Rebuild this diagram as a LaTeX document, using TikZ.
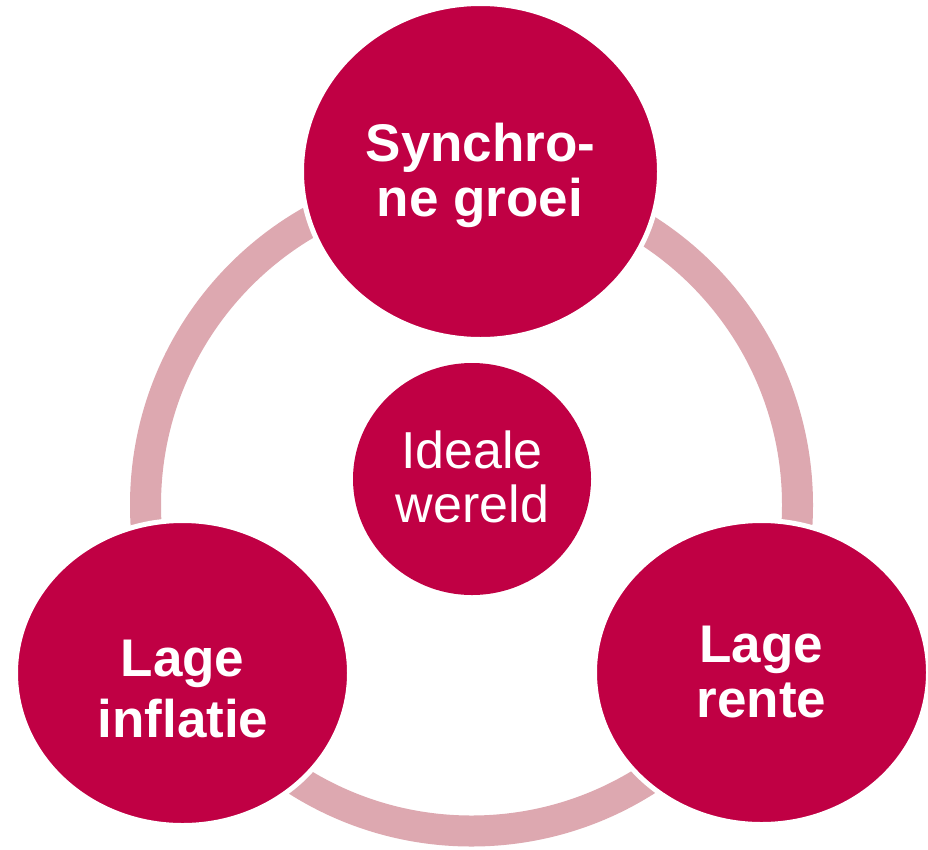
\documentclass[tikz,border=0pt]{standalone}
\usepackage{fontspec}
\newfontfamily\arialfont{Liberation Sans}
\usetikzlibrary{shapes.geometric}
\definecolor{berry}{RGB}{192,0,68}
\definecolor{ringpink}{RGB}{221,168,176}
\tikzset{
  ringline/.style={draw=ringpink, line width=31pt},
  bigball/.style={ellipse, fill=berry, draw=white, line width=5pt, inner sep=0pt, outer sep=0pt},
  boldtext/.style={anchor=base, text=white, inner sep=0pt, font=\arialfont\bfseries\fontsize{53}{60}\selectfont},
  plaintext/.style={anchor=base, text=white, inner sep=0pt, font=\arialfont\fontsize{52}{60}\selectfont}
}
\begin{document}
\begin{tikzpicture}[x=1pt, y=-1pt]
\useasboundingbox[fill=white] (0,0) rectangle (928,849);
\coordinate (ringc) at (471.5,505);
\draw[ringline] (ringc) circle[radius=326];
% circles
\node[bigball, minimum width=358pt, minimum height=336pt] (groei) at (480.5,171.5) {};
\node[bigball, minimum width=334pt, minimum height=305pt] (inflatie) at (182.5,673) {};
\node[bigball, minimum width=334pt, minimum height=304pt] (rente) at (761.5,672.5) {};
\node[bigball, draw=none, minimum width=238pt, minimum height=232pt] (ideaal) at (472,479) {};
% texts
\node[boldtext] (t1a) at (480.5,161) {Synchro-};
\node[boldtext] (t1b) at (480,216) {ne groei};
\node[boldtext] (t2a) at (182.5,676) {Lage};
\node[boldtext] (t2b) at (183,737) {inflatie};
\node[boldtext] (t3a) at (761,662) {Lage};
\node[boldtext] (t3b) at (761.5,717) {rente};
\node[plaintext] (t4a) at (472,468) {Ideale};
\node[plaintext] (t4b) at (472.5,522) {wereld};
\end{tikzpicture}
\end{document}
